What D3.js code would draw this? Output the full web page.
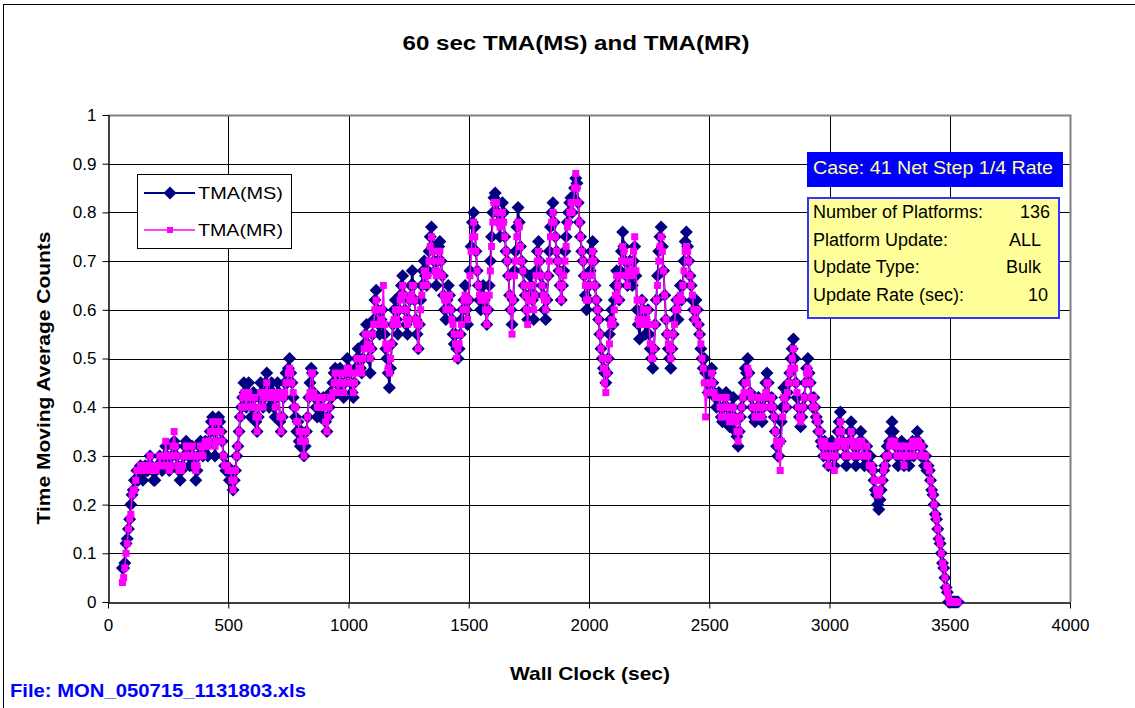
<!DOCTYPE html>
<html><head><meta charset="utf-8">
<script src="https://cdn.jsdelivr.net/npm/d3@7/dist/d3.min.js"></script>
<style>
html,body{margin:0;padding:0;background:#fff;overflow:hidden;}
text{font-family:"Liberation Sans",Arial,sans-serif;}
</style></head>
<body>
<svg id="chart" width="1135" height="708"></svg>
<script>
// ---- data ----
const timeStart = 60, timeStep = 5;   // sample times: 60, 65, ... 3535 s
const tmaMS = [
 0.07,0.07,0.08,0.12,0.13,0.15,0.17,0.20,0.22,0.23, 0.25,0.25,0.27,0.25,0.27,0.28,0.27,0.25,0.27,0.28,
 0.27,0.27,0.28,0.30,0.28,0.27,0.25,0.25,0.27,0.28, 0.28,0.30,0.28,0.27,0.28,0.30,0.32,0.30,0.28,0.27,
 0.28,0.30,0.32,0.33,0.32,0.30,0.28,0.27,0.25,0.27, 0.28,0.30,0.32,0.33,0.32,0.30,0.28,0.30,0.32,0.30,
 0.28,0.25,0.27,0.30,0.32,0.33,0.32,0.30,0.32,0.33, 0.32,0.30,0.33,0.35,0.37,0.38,0.35,0.30,0.33,0.37,
 0.38,0.37,0.35,0.33,0.30,0.28,0.27,0.28,0.27,0.25, 0.27,0.25,0.23,0.25,0.27,0.30,0.32,0.35,0.38,0.40,
 0.42,0.45,0.43,0.40,0.43,0.45,0.42,0.38,0.40,0.43, 0.42,0.37,0.35,0.38,0.42,0.45,0.43,0.40,0.42,0.45,
 0.47,0.43,0.40,0.42,0.45,0.43,0.40,0.38,0.42,0.45, 0.43,0.37,0.35,0.38,0.42,0.45,0.47,0.45,0.48,0.50,
 0.47,0.45,0.42,0.40,0.38,0.35,0.37,0.33,0.32,0.35, 0.33,0.30,0.32,0.35,0.38,0.42,0.45,0.48,0.47,0.43,
 0.42,0.40,0.38,0.42,0.40,0.38,0.40,0.42,0.38,0.37, 0.35,0.38,0.40,0.43,0.42,0.45,0.47,0.48,0.45,0.43,
 0.47,0.48,0.45,0.43,0.42,0.45,0.47,0.50,0.48,0.47, 0.45,0.43,0.42,0.45,0.48,0.50,0.52,0.50,0.48,0.47,
 0.50,0.53,0.55,0.57,0.53,0.50,0.47,0.52,0.55,0.58, 0.62,0.64,0.60,0.57,0.55,0.58,0.60,0.57,0.55,0.52,
 0.50,0.47,0.44,0.48,0.53,0.57,0.60,0.62,0.58,0.55, 0.60,0.63,0.65,0.67,0.63,0.60,0.57,0.55,0.58,0.62,
 0.65,0.68,0.65,0.62,0.58,0.55,0.52,0.57,0.62,0.65, 0.68,0.70,0.67,0.65,0.68,0.72,0.75,0.77,0.73,0.70,
 0.68,0.65,0.70,0.73,0.74,0.70,0.67,0.63,0.60,0.58, 0.62,0.65,0.63,0.60,0.58,0.55,0.53,0.55,0.52,0.50,
 0.52,0.55,0.58,0.60,0.62,0.65,0.60,0.57,0.62,0.68, 0.73,0.78,0.80,0.77,0.72,0.68,0.65,0.62,0.60,0.63,
 0.65,0.62,0.60,0.57,0.60,0.65,0.70,0.75,0.80,0.83, 0.84,0.82,0.80,0.78,0.75,0.78,0.82,0.80,0.75,0.72,
 0.70,0.67,0.63,0.60,0.57,0.62,0.68,0.72,0.77,0.81, 0.78,0.73,0.70,0.68,0.65,0.63,0.60,0.58,0.63,0.67,
 0.65,0.62,0.58,0.63,0.68,0.72,0.74,0.70,0.67,0.65, 0.63,0.60,0.58,0.62,0.67,0.72,0.77,0.80,0.82,0.78,
 0.75,0.72,0.70,0.68,0.65,0.62,0.65,0.68,0.72,0.75, 0.78,0.80,0.82,0.83,0.80,0.83,0.85,0.87,0.86,0.82,
 0.78,0.75,0.72,0.70,0.67,0.63,0.60,0.62,0.65,0.68, 0.72,0.74,0.70,0.65,0.62,0.60,0.58,0.55,0.52,0.50,
 0.48,0.47,0.45,0.47,0.50,0.55,0.58,0.60,0.57,0.62, 0.65,0.68,0.65,0.62,0.68,0.72,0.76,0.73,0.70,0.67,
 0.65,0.68,0.70,0.67,0.65,0.70,0.73,0.67,0.60,0.57, 0.54,0.58,0.62,0.60,0.58,0.55,0.57,0.60,0.55,0.52,
 0.50,0.48,0.52,0.57,0.62,0.67,0.72,0.75,0.77,0.73, 0.68,0.63,0.58,0.55,0.52,0.50,0.48,0.52,0.55,0.58,
 0.60,0.62,0.58,0.62,0.65,0.62,0.65,0.70,0.74,0.76, 0.73,0.70,0.67,0.65,0.62,0.60,0.58,0.62,0.60,0.57,
 0.55,0.52,0.50,0.48,0.50,0.47,0.45,0.43,0.45,0.47, 0.48,0.45,0.43,0.42,0.40,0.42,0.43,0.40,0.38,0.37,
 0.40,0.42,0.43,0.40,0.38,0.36,0.38,0.40,0.42,0.38, 0.35,0.34,0.32,0.35,0.38,0.40,0.42,0.45,0.48,0.47,
 0.50,0.47,0.43,0.42,0.40,0.38,0.37,0.38,0.40,0.42, 0.40,0.38,0.37,0.40,0.42,0.45,0.47,0.45,0.42,0.40,
 0.42,0.40,0.38,0.35,0.32,0.30,0.30,0.33,0.37,0.40, 0.44,0.42,0.40,0.43,0.45,0.47,0.50,0.52,0.54,0.50,
 0.45,0.42,0.40,0.38,0.36,0.38,0.40,0.42,0.45,0.48, 0.50,0.47,0.45,0.42,0.40,0.42,0.40,0.38,0.37,0.35,
 0.35,0.33,0.32,0.30,0.33,0.32,0.30,0.28,0.30,0.32, 0.33,0.30,0.28,0.30,0.32,0.35,0.37,0.39,0.35,0.33,
 0.32,0.30,0.28,0.30,0.33,0.35,0.37,0.35,0.32,0.30, 0.28,0.30,0.32,0.33,0.35,0.33,0.30,0.28,0.30,0.32,
 0.30,0.28,0.30,0.28,0.27,0.25,0.23,0.22,0.20,0.19, 0.21,0.23,0.25,0.27,0.28,0.30,0.32,0.30,0.33,0.35,
 0.37,0.35,0.33,0.32,0.30,0.28,0.30,0.32,0.33,0.30, 0.28,0.30,0.32,0.30,0.28,0.30,0.32,0.33,0.30,0.32,
 0.33,0.35,0.33,0.32,0.30,0.32,0.30,0.28,0.30,0.27, 0.28,0.27,0.25,0.23,0.22,0.20,0.18,0.17,0.15,0.13,
 0.12,0.10,0.08,0.07,0.05,0.03,0.02,0,0,0, 0,0,0,0,0,0
];
const tmaMR = [
 0.04,0.05,0.07,0.10,0.12,0.15,0.17,0.18,0.22,0.23, 0.23,0.25,0.27,0.27,0.27,0.28,0.27,0.27,0.27,0.28,
 0.27,0.28,0.28,0.30,0.28,0.27,0.27,0.27,0.27,0.28, 0.28,0.30,0.28,0.28,0.28,0.30,0.33,0.30,0.28,0.27,
 0.28,0.30,0.32,0.35,0.32,0.30,0.28,0.27,0.27,0.27, 0.28,0.30,0.30,0.32,0.32,0.30,0.30,0.30,0.32,0.30,
 0.28,0.27,0.28,0.30,0.30,0.32,0.32,0.30,0.32,0.33, 0.32,0.32,0.33,0.35,0.35,0.37,0.35,0.32,0.33,0.35,
 0.37,0.35,0.35,0.33,0.30,0.28,0.28,0.28,0.27,0.27, 0.27,0.25,0.23,0.25,0.27,0.30,0.32,0.35,0.38,0.40,
 0.42,0.43,0.43,0.40,0.42,0.43,0.42,0.40,0.40,0.42, 0.42,0.38,0.35,0.38,0.40,0.43,0.43,0.40,0.42,0.43,
 0.45,0.43,0.42,0.42,0.43,0.43,0.42,0.40,0.42,0.43, 0.43,0.38,0.35,0.38,0.42,0.43,0.45,0.45,0.47,0.48,
 0.47,0.45,0.43,0.40,0.40,0.37,0.37,0.35,0.33,0.35, 0.33,0.30,0.33,0.35,0.38,0.42,0.43,0.47,0.47,0.43,
 0.42,0.42,0.40,0.42,0.40,0.40,0.40,0.42,0.40,0.37, 0.35,0.38,0.40,0.42,0.42,0.43,0.45,0.47,0.45,0.43,
 0.45,0.47,0.45,0.45,0.43,0.45,0.47,0.48,0.48,0.47, 0.45,0.45,0.43,0.45,0.47,0.50,0.50,0.50,0.48,0.47,
 0.50,0.52,0.55,0.55,0.53,0.52,0.50,0.52,0.55,0.57, 0.60,0.62,0.60,0.57,0.57,0.58,0.60,0.65,0.57,0.53,
 0.52,0.48,0.47,0.50,0.53,0.57,0.58,0.60,0.58,0.57, 0.60,0.62,0.63,0.65,0.63,0.60,0.58,0.57,0.58,0.62,
 0.63,0.65,0.65,0.62,0.58,0.57,0.52,0.57,0.60,0.63, 0.65,0.68,0.67,0.65,0.67,0.70,0.73,0.75,0.72,0.70,
 0.68,0.67,0.68,0.72,0.72,0.70,0.67,0.63,0.62,0.60, 0.62,0.63,0.63,0.60,0.58,0.57,0.55,0.53,0.50,0.52,
 0.53,0.55,0.57,0.60,0.62,0.63,0.60,0.58,0.62,0.67, 0.72,0.75,0.78,0.75,0.72,0.68,0.65,0.63,0.62,0.62,
 0.63,0.62,0.60,0.57,0.60,0.63,0.68,0.73,0.78,0.82, 0.82,0.82,0.80,0.78,0.77,0.78,0.80,0.78,0.75,0.72,
 0.70,0.67,0.63,0.60,0.55,0.62,0.67,0.70,0.75,0.78, 0.77,0.73,0.70,0.68,0.65,0.63,0.60,0.57,0.62,0.65,
 0.65,0.62,0.60,0.63,0.67,0.70,0.72,0.70,0.67,0.65, 0.63,0.62,0.60,0.62,0.67,0.70,0.75,0.78,0.80,0.78,
 0.75,0.72,0.70,0.68,0.65,0.62,0.65,0.67,0.70,0.73, 0.77,0.78,0.80,0.82,0.80,0.82,0.85,0.88,0.85,0.82,
 0.78,0.75,0.72,0.70,0.67,0.65,0.62,0.62,0.65,0.67, 0.70,0.72,0.70,0.65,0.62,0.60,0.58,0.55,0.52,0.50,
 0.48,0.45,0.43,0.47,0.50,0.53,0.57,0.58,0.57,0.60, 0.63,0.67,0.65,0.62,0.67,0.70,0.73,0.72,0.70,0.67,
 0.65,0.68,0.70,0.68,0.67,0.72,0.75,0.68,0.62,0.58, 0.57,0.58,0.62,0.60,0.58,0.57,0.58,0.60,0.57,0.53,
 0.50,0.50,0.52,0.57,0.62,0.65,0.70,0.73,0.75,0.72, 0.68,0.63,0.58,0.55,0.53,0.52,0.50,0.52,0.55,0.57,
 0.60,0.62,0.60,0.62,0.63,0.62,0.65,0.68,0.72,0.73, 0.72,0.70,0.67,0.65,0.63,0.60,0.58,0.60,0.60,0.57,
 0.55,0.53,0.50,0.48,0.45,0.38,0.43,0.43,0.45,0.45, 0.47,0.45,0.43,0.42,0.42,0.42,0.42,0.40,0.38,0.38,
 0.40,0.42,0.42,0.40,0.38,0.37,0.38,0.40,0.40,0.38, 0.37,0.35,0.33,0.35,0.38,0.40,0.42,0.43,0.45,0.45,
 0.48,0.47,0.43,0.42,0.40,0.40,0.38,0.38,0.40,0.42, 0.40,0.38,0.38,0.40,0.42,0.43,0.45,0.45,0.42,0.40,
 0.42,0.40,0.38,0.35,0.33,0.32,0.30,0.27,0.33,0.38, 0.42,0.42,0.40,0.43,0.45,0.47,0.48,0.50,0.52,0.48,
 0.45,0.43,0.40,0.38,0.37,0.38,0.40,0.42,0.45,0.47, 0.48,0.47,0.45,0.42,0.40,0.42,0.40,0.38,0.37,0.35,
 0.35,0.33,0.32,0.30,0.33,0.32,0.30,0.28,0.30,0.32, 0.32,0.30,0.27,0.30,0.32,0.33,0.35,0.37,0.35,0.33,
 0.32,0.30,0.30,0.30,0.33,0.33,0.35,0.33,0.32,0.30, 0.30,0.30,0.32,0.33,0.33,0.33,0.30,0.30,0.30,0.32,
 0.30,0.28,0.28,0.28,0.27,0.25,0.25,0.23,0.22,0.22, 0.23,0.25,0.25,0.27,0.28,0.30,0.30,0.30,0.32,0.33,
 0.33,0.33,0.33,0.32,0.30,0.30,0.30,0.32,0.32,0.30, 0.28,0.30,0.32,0.30,0.30,0.30,0.32,0.33,0.30,0.32,
 0.33,0.33,0.33,0.32,0.30,0.32,0.30,0.30,0.30,0.28, 0.28,0.27,0.25,0.23,0.22,0.20,0.18,0.17,0.15,0.13,
 0.12,0.10,0.08,0.07,0.05,0.03,0.02,0.01,0,0, 0,0,0,0,0,0
];
const xTicks = [0,500,1000,1500,2000,2500,3000,3500,4000];
const yTicks = [0,0.1,0.2,0.3,0.4,0.5,0.6,0.7,0.8,0.9,1];
const seriesNames = ["TMA(MS)","TMA(MR)"];
const titleText = "60 sec TMA(MS) and TMA(MR)";
const xTitle = "Wall Clock (sec)";
const yTitle = "Time Moving Average Counts";
const fileText = "File: MON_050715_1131803.xls";
const caseText = "Case: 41 Net Step 1/4 Rate";
const infoLabels = ["Number of Platforms:","Platform Update:","Update Type:","Update Rate (sec):"];
const infoValues = ["136","ALL","Bulk","10"];

// ---- chart ----
const svg = d3.select("#chart");
const L = 108, R = 1070, T = 115, B = 602;
const x = d3.scaleLinear().domain([0,4000]).range([L,R]);
const y = d3.scaleLinear().domain([0,1]).range([B,T]);

// outer frame
svg.append("rect").attr("x",3.5).attr("y",4.5).attr("width",1200).attr("height",800)
  .attr("fill","none").attr("stroke","#000").attr("stroke-width",1);

// gridlines
const g = svg.append("g");
g.selectAll(".hg").data(yTicks.slice(1,-1)).join("line")
  .attr("x1",L).attr("x2",R).attr("y1",d=>Math.round(y(d))+0.5).attr("y2",d=>Math.round(y(d))+0.5)
  .attr("stroke","#000").attr("stroke-width",1);
g.selectAll(".vg").data(xTicks.slice(1,-1)).join("line")
  .attr("y1",T).attr("y2",B).attr("x1",d=>Math.round(x(d))+0.5).attr("x2",d=>Math.round(x(d))+0.5)
  .attr("stroke","#000").attr("stroke-width",1);
svg.append("path").attr("d",`M${L},${T+0.5}H${R+0.5}V${B}`).attr("fill","none").attr("stroke","#808080").attr("stroke-width",2);

// axes
const xAxis = d3.axisBottom(x).tickValues(xTicks).tickSize(6).tickSizeOuter(0).tickPadding(10).tickFormat(d3.format("d"));
const yAxis = d3.axisLeft(y).tickValues(yTicks).tickSize(6).tickSizeOuter(0).tickPadding(6).tickFormat(d=>String(+d.toFixed(1)));
const gx = svg.append("g").attr("transform",`translate(0,${B+0.5})`).call(xAxis);
const gy = svg.append("g").attr("transform",`translate(${L+0.5},0)`).call(yAxis);
[gx,gy].forEach(a=>{
  a.select(".domain").attr("stroke","#000").attr("stroke-width",1.5);
  a.selectAll(".tick line").attr("stroke","#000");
  a.selectAll("text").attr("font-size",17).attr("fill","#000").style("font-family","'Liberation Sans',Arial,sans-serif");
});

// series
const dataMS = tmaMS.map((v,i)=>({t: timeStart + i*timeStep, v}));
const dataMR = tmaMR.map((v,i)=>({t: timeStart + i*timeStep, v}));
const line = d3.line().x(d=>x(d.t)).y(d=>y(d.v));
const diamond = "M0,-6.5L6.5,0L0,6.5L-6.5,0Z";
const navy = "#000080", pink = "#FF00FF";
const sq = 7;

svg.append("path").datum(dataMS).attr("d",line).attr("fill","none").attr("stroke",navy).attr("stroke-width",2);
svg.append("g").selectAll("path").data(dataMS).join("path")
  .attr("d",diamond).attr("transform",d=>`translate(${x(d.t)},${y(d.v)})`).attr("fill",navy);

svg.append("path").datum(dataMR).attr("d",line).attr("fill","none").attr("stroke",pink).attr("stroke-width",1.5);
svg.append("g").selectAll("rect").data(dataMR).join("rect")
  .attr("x",d=>x(d.t)-sq/2).attr("y",d=>y(d.v)-sq/2).attr("width",sq).attr("height",sq).attr("fill",pink);

// title and axis titles
svg.append("text").attr("x",576).attr("y",50).attr("text-anchor","middle").attr("font-size",20).attr("font-weight","bold")
  .attr("textLength",347).attr("lengthAdjust","spacingAndGlyphs").text(titleText);
svg.append("text").attr("x",590).attr("y",680).attr("text-anchor","middle").attr("font-size",19).attr("font-weight","bold")
  .attr("textLength",160).attr("lengthAdjust","spacingAndGlyphs").text(xTitle);
svg.append("text").attr("transform","translate(50,378) rotate(-90)").attr("text-anchor","middle").attr("font-size",19).attr("font-weight","bold")
  .attr("textLength",293).attr("lengthAdjust","spacingAndGlyphs").text(yTitle);
svg.append("text").attr("x",10).attr("y",697).attr("font-size",18).attr("font-weight","bold").attr("fill","#0000FF")
  .attr("textLength",296).attr("lengthAdjust","spacingAndGlyphs").text(fileText);

// legend
const lg = svg.append("g");
lg.append("rect").attr("x",137.5).attr("y",174.5).attr("width",154).attr("height",74).attr("fill","#fff").attr("stroke","#000");
const legY = [193,230];
lg.append("line").attr("x1",144).attr("x2",195).attr("y1",legY[0]).attr("y2",legY[0]).attr("stroke",navy).attr("stroke-width",2);
lg.append("path").attr("d",diamond).attr("transform",`translate(170,${legY[0]})`).attr("fill",navy);
lg.append("line").attr("x1",144).attr("x2",195).attr("y1",legY[1]).attr("y2",legY[1]).attr("stroke",pink).attr("stroke-width",1.5);
lg.append("rect").attr("x",167).attr("y",legY[1]-3).attr("width",6).attr("height",6).attr("fill",pink);
seriesNames.forEach((s,i)=>{
  lg.append("text").attr("x",198).attr("y",legY[i]+6).attr("font-size",17)
    .attr("textLength",85).attr("lengthAdjust","spacingAndGlyphs").text(s);
});

// case box
svg.append("rect").attr("x",807).attr("y",152).attr("width",256).attr("height",35).attr("fill","#0000FF");
svg.append("text").attr("x",813).attr("y",174).attr("font-size",19).attr("fill","#FFFF99")
  .attr("textLength",240).attr("lengthAdjust","spacingAndGlyphs").text(caseText);

// info box
svg.append("rect").attr("x",808).attr("y",198).attr("width",251).attr("height",120).attr("fill","#FFFF99").attr("stroke","#3333FF").attr("stroke-width",2);
const rowY = [218,246,273,301];
const valEnd = [1050,1041,1041,1048];
infoLabels.forEach((s,i)=>{
  svg.append("text").attr("x",813).attr("y",rowY[i]).attr("font-size",18).text(s);
  svg.append("text").attr("x",valEnd[i]).attr("y",rowY[i]).attr("font-size",18).attr("text-anchor","end").text(infoValues[i]);
});
</script>
</body></html>
